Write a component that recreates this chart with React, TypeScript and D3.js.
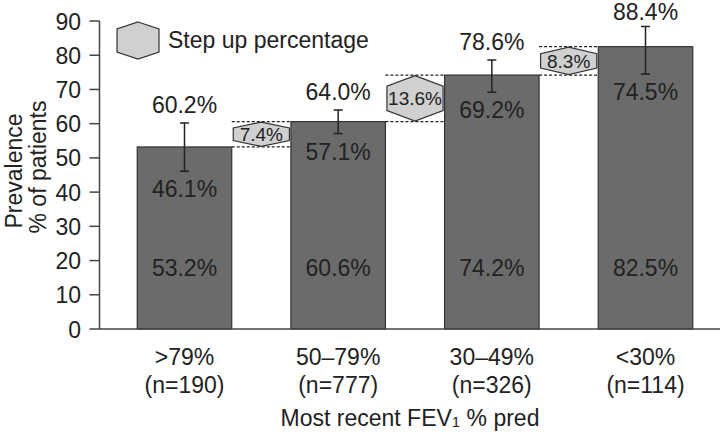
import React from "react";
import * as d3 from "d3";

const categories = [">79%", "50–79%", "30–49%", "<30%"];
const nLabels = ["(n=190)", "(n=777)", "(n=326)", "(n=114)"];
const values = [53.2, 60.6, 74.2, 82.5];
const lowerCI = [46.1, 57.1, 69.2, 74.5];
const upperCI = [60.2, 64.0, 78.6, 88.4];
const stepUps = ["7.4%", "13.6%", "8.3%"];
const yTicks = [0, 10, 20, 30, 40, 50, 60, 70, 80, 90];

const W = 720;
const H = 437;
const FONT = "'Liberation Sans', Arial, Helvetica, sans-serif";
const TXT = "#222";
const FS = 23;

function hexPath(x0: number, x1: number, y0: number, y1: number, f = 0.24) {
  const cx = (x0 + x1) / 2;
  const h = y1 - y0;
  const o = Math.min(h * f, 10.5);
  return `M${cx},${y0} L${x1},${y0 + o} L${x1},${y1 - o} L${cx},${y1} L${x0},${y1 - o} L${x0},${y0 + o} Z`;
}

export default function App() {
  const x = d3
    .scaleBand<string>()
    .domain(categories)
    .range([99.5, 730.5])
    .paddingInner(0.385)
    .paddingOuter(0.2456);
  const y = d3.scaleLinear().domain([0, 90]).range([329, 21]);
  const bw = x.bandwidth();
  const axisX = 99.5;

  return (
    <div style={{ position: "absolute", left: 0, top: 0 }}>
      <svg width={W} height={H} style={{ display: "block", background: "#fff" }} fontFamily={FONT}>
        {/* y axis */}
        <line x1={axisX} x2={axisX} y1={y(90)} y2={y(0)} stroke="#444" strokeWidth={1.5} />
        {yTicks.map((t) => (
          <g key={t}>
            <line x1={axisX - 10} x2={axisX} y1={y(t)} y2={y(t)} stroke="#444" strokeWidth={1.5} />
            <text x={81} y={y(t) + 8.5} textAnchor="end" fontSize={FS} fill={TXT}>
              {t}
            </text>
          </g>
        ))}
        {/* y title */}
        <text transform={`translate(22,171) rotate(-90)`} textAnchor="middle" fontSize={FS} fill={TXT}>
          Prevalence
        </text>
        <text transform={`translate(46,167) rotate(-90)`} textAnchor="middle" fontSize={FS} fill={TXT}>
          % of patients
        </text>

        {/* bars */}
        {categories.map((c, i) => (
          <rect
            key={c}
            x={x(c)!}
            y={y(values[i])}
            width={bw}
            height={y(0) - y(values[i])}
            fill="#6b6b6b"
            stroke="#333"
            strokeWidth={1.2}
          />
        ))}

        {/* x axis baseline */}
        <line x1={axisX} x2={W} y1={y(0)} y2={y(0)} stroke="#444" strokeWidth={1.5} />

        {/* error bars */}
        {categories.map((c, i) => {
          const cx = x(c)! + bw / 2;
          return (
            <g key={c} stroke="#222" strokeWidth={1.5}>
              <line x1={cx} x2={cx} y1={y(upperCI[i])} y2={y(lowerCI[i])} />
              <line x1={cx - 4.5} x2={cx + 4.5} y1={y(upperCI[i])} y2={y(upperCI[i])} />
              <line x1={cx - 4.5} x2={cx + 4.5} y1={y(lowerCI[i])} y2={y(lowerCI[i])} />
            </g>
          );
        })}

        {/* labels */}
        {categories.map((c, i) => {
          const cx = x(c)! + bw / 2;
          return (
            <g key={c} fontSize={FS} fill={TXT} textAnchor="middle">
              <text x={cx} y={Math.max(y(upperCI[i]) - 10, 20)}>{upperCI[i].toFixed(1)}%</text>
              <text x={cx} y={y(lowerCI[i]) + 26}>{lowerCI[i].toFixed(1)}%</text>
              <text x={cx} y={276}>{values[i].toFixed(1)}%</text>
              <text x={cx} y={365}>{c}</text>
              <text x={cx} y={393}>{nLabels[i]}</text>
            </g>
          );
        })}

        {/* step up hexagons */}
        {stepUps.map((s, i) => {
          const gx0 = x(categories[i])! + bw;
          const gx1 = x(categories[i + 1])!;
          const yTop = y(values[i + 1]);
          const yBot = y(values[i]);
          return (
            <g key={s}>
              <line x1={gx0} x2={gx1} y1={yTop} y2={yTop} stroke="#222" strokeWidth={1.2} strokeDasharray="3,2" />
              <line x1={gx0} x2={gx1} y1={yBot} y2={yBot} stroke="#222" strokeWidth={1.2} strokeDasharray="3,2" />
              <path d={hexPath(gx0 + 1.5, gx1 - 1.5, yTop + 0.5, yBot - 0.5)} fill="#d0d0d0" stroke="#333" strokeWidth={1.2} />
              <text x={(gx0 + gx1) / 2} y={(yTop + yBot) / 2 + 7} textAnchor="middle" fontSize={19} fill={TXT}>
                {s}
              </text>
            </g>
          );
        })}

        {/* legend */}
        <path d={hexPath(117, 159, 22, 59, 0.19)} fill="#d0d0d0" stroke="#333" strokeWidth={1.2} />
        <text x={168} y={48} fontSize={FS} fill={TXT}>
          Step up percentage
        </text>

        {/* x title */}
        <text x={410} y={426} textAnchor="middle" fontSize={FS} fill={TXT}>
          Most recent FEV<tspan fontSize={15} dy={1}>1</tspan>
          <tspan dy={-1}> % pred</tspan>
        </text>
      </svg>
    </div>
  );
}
